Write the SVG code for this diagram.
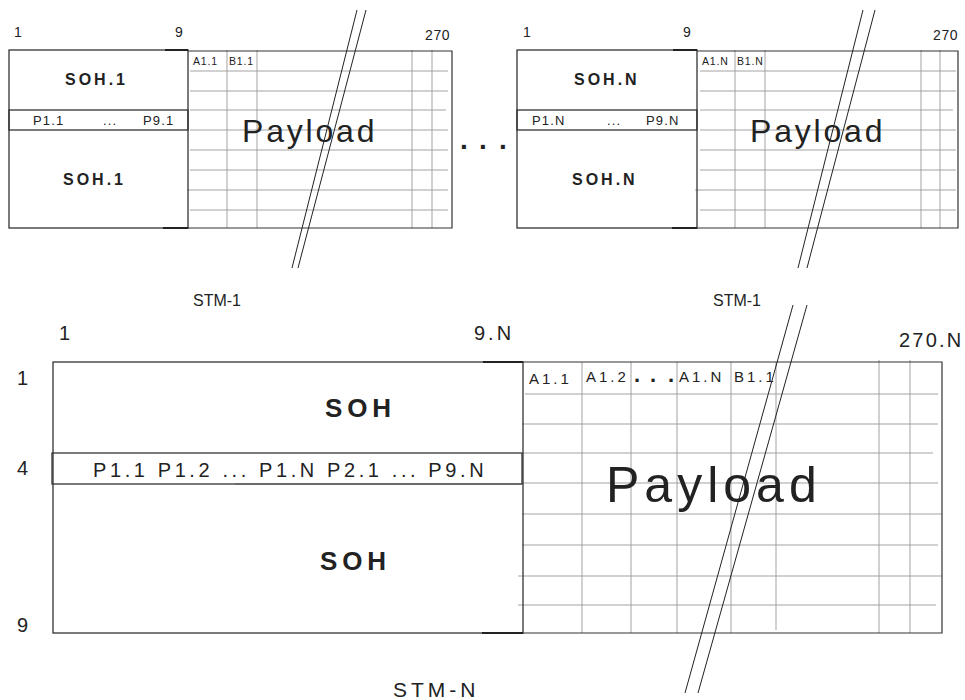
<svg xmlns="http://www.w3.org/2000/svg" width="965" height="700" viewBox="0 0 965 700">
<style>
text{font-family:"Liberation Sans",Arial,sans-serif;fill:#222}
.box{fill:none;stroke:#333;stroke-width:1.3}
.edge{fill:none;stroke:#333;stroke-width:1.2}
.tick{stroke:#222;stroke-width:2}
.grid{stroke:#999;stroke-width:0.9;fill:none}
.brk{stroke:#222;stroke-width:1;fill:none}
.lbl{font-size:14px;letter-spacing:0.6px}
.soh1{font-size:16px;font-weight:bold;letter-spacing:3px}
.p1{font-size:13px;letter-spacing:1.2px}
.cell1{font-size:10.5px;letter-spacing:0.8px}
.pay1{font-size:32px;letter-spacing:2.8px}
.stm1{font-size:16px}
.lblN{font-size:20px;letter-spacing:3px}
.sohN{font-size:26px;font-weight:bold;letter-spacing:4.8px}
.pN{font-size:20px;letter-spacing:3.6px}
.cellN{font-size:15px;letter-spacing:3px}
.payN{font-size:50px;letter-spacing:5px}
.stmN{font-size:21px;letter-spacing:4px}
.dots{font-size:28px;font-weight:bold}
</style>

<g id="stm1-first">
  <text class="lbl" x="14" y="37">1</text>
  <text class="lbl" x="175" y="37">9</text>
  <text class="lbl" x="425" y="40">270</text>
  <g class="grid">
    <path d="M190 71H448M190 91H448M190 110H446M190 130H448M190 150H448M190 170H448M187 190H448M190 210H448"/>
    <path d="M227 50V228M257 50V228M412 50V228M432 50V228"/>
  </g>
  <rect class="box" x="9" y="50" width="179" height="178"/>
  <rect class="box" x="9" y="110" width="179" height="20"/>
  <path class="edge" d="M188 51H452V228H188"/>
  <path class="tick" d="M165 50H188M163 228H188"/>
  <text class="soh1" x="65" y="85">SOH.1</text>
  <text class="soh1" x="63" y="185">SOH.1</text>
  <text class="p1" x="33" y="125">P1.1</text>
  <text class="p1" x="103" y="125">...</text>
  <text class="p1" x="143" y="125">P9.1</text>
  <text class="cell1" x="193" y="65">A1.1</text>
  <text class="cell1" x="229" y="65">B1.1</text>
  <text class="pay1" x="242" y="142">Payload</text>
  <text class="stm1" x="193" y="306">STM-1</text>
</g>

<g id="ellipsis">
  <text class="dots" x="460 479 499" y="149">...</text>
</g>

<g id="stm1-last">
  <text class="lbl" x="523" y="37">1</text>
  <text class="lbl" x="683" y="37">9</text>
  <text class="lbl" x="933" y="40">270</text>
  <g class="grid">
    <path d="M700 71H956M700 91H956M700 110H953M700 130H956M700 150H956M700 170H956M695 190H956M700 210H956"/>
    <path d="M735 50V228M765 50V228M921 50V228M940 50V228"/>
  </g>
  <rect class="box" x="517" y="50" width="180" height="178"/>
  <rect class="box" x="517" y="110" width="180" height="20"/>
  <path class="edge" d="M697 51H958V228H697"/>
  <path class="tick" d="M673 50H697M672 228H697"/>
  <text class="soh1" x="574" y="85">SOH.N</text>
  <text class="soh1" x="572" y="185">SOH.N</text>
  <text class="p1" x="532" y="125">P1.N</text>
  <text class="p1" x="607" y="125">...</text>
  <text class="p1" x="646" y="125">P9.N</text>
  <text class="cell1" x="702" y="65">A1.N</text>
  <text class="cell1" x="737" y="65">B1.N</text>
  <text class="pay1" x="750" y="142">Payload</text>
  <text class="stm1" x="713" y="306">STM-1</text>
</g>

<g id="stm-n">
  <text class="lblN" x="59" y="340">1</text>
  <text class="lblN" x="474" y="340">9.N</text>
  <text class="lblN" x="899" y="347" style="letter-spacing:2.2px">270.N</text>
  <text class="lblN" x="17" y="385">1</text>
  <text class="lblN" x="17" y="475">4</text>
  <text class="lblN" x="17" y="632">9</text>
  <g class="grid">
    <path d="M525 394H938M522 424H938M522 453H933M522 483H938M522 514H942M522 545H938M518 576H942M518 605H936M235 484H522"/>
    <path d="M582 362V633M631 362V633M677 362V633M731 362V633M776 362V630M879 360V633M910 360V633"/>
  </g>
  <rect class="box" x="53" y="362" width="470" height="271"/>
  <rect class="box" x="52" y="453" width="470" height="31"/>
  <path class="edge" d="M523 362H942V633H523"/>
  <path class="tick" d="M483 362H523M482 633H523"/>
  <text class="sohN" x="325" y="417">SOH</text>
  <text class="sohN" x="320" y="570">SOH</text>
  <text class="pN" x="93" y="477">P1.1 P1.2 ... P1.N P2.1 ... P9.N</text>
  <text class="cellN" x="529" y="384">A1.1</text>
  <text class="cellN" x="586" y="382">A1.2</text>
  <text class="dots" style="font-size:22px" x="634 650 668" y="382">...</text>
  <text class="cellN" x="679" y="382">A1.N</text>
  <text class="cellN" x="734" y="382">B1.1</text>
  <text class="payN" x="606" y="502">Payload</text>
  <text class="stmN" x="393" y="697">STM-N</text>
</g>

<g id="connectors">
  <path class="brk" d="M357 10L292 268M366 10L298 268"/>
  <path class="brk" d="M863 10L798 268M875 10L807 268"/>
  <path class="brk" d="M793 305L685 693M807 305L698 693"/>
</g>
</svg>
